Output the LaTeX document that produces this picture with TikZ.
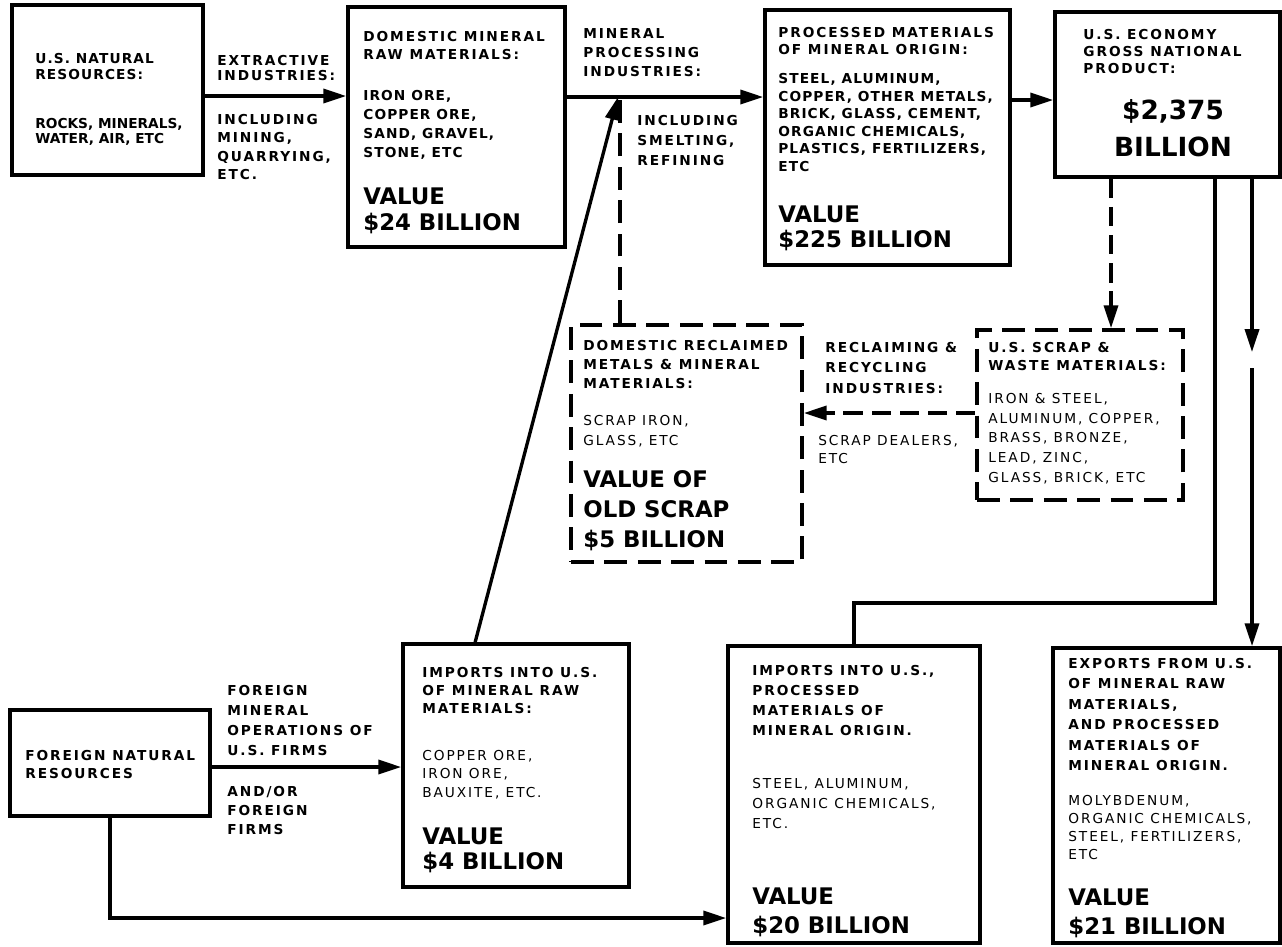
\documentclass[tikz,border=0pt]{standalone}
\usepackage{fontspec}
\setmainfont{DejaVu Sans}
\newfontfamily\widefont{DejaVu Sans}[LetterSpace=14]
\newfontfamily\midfont{DejaVu Sans}[LetterSpace=8]
\usetikzlibrary{arrows.meta,fit,calc}

% text sizes: small caps lines and the large value lines
\newcommand{\hdrtxt}[1]{\fontsize{7.8pt}{#1}\selectfont\widefont\bfseries}
\newcommand{\lsttxt}[1]{\fontsize{7.8pt}{#1}\selectfont\widefont}
\newcommand{\mdtxt}[1]{\fontsize{7.8pt}{#1}\selectfont\midfont\bfseries}
\newcommand{\plntxt}[1]{\fontsize{7.8pt}{#1}\selectfont\bfseries}
\newcommand{\valtxt}[1]{\fontsize{13pt}{#1}\selectfont\bfseries}

\tikzset{
  box/.style={draw, line width=2.1pt, inner sep=0pt},
  dbox/.style={box, dash pattern=on 13pt off 6pt},
  txt/.style={anchor=north west, inner sep=0pt, align=left},
  flow/.style={line width=1.9pt},
  arr/.style={flow, -{Triangle[length=13pt,width=8pt]}},
  darr/.style={arr, dash pattern=on 11pt off 5pt},
}

\begin{document}
\begin{tikzpicture}[x=0.02cm, y=-0.02cm]
  \fill[white] (0,0) rectangle (1282,947);
  \useasboundingbox (0,0) rectangle (1282,947);

  % boxes
  \node[box, fit={(12,5) (203,175)}] (usnr) {};
  \node[box, fit={(348,7) (565,247)}] (dmrm) {};
  \node[box, fit={(765,10) (1010,265)}] (pmmo) {};
  \node[box, fit={(1055,12) (1280,177)}] (usec) {};
  \node[dbox, fit={(571,325) (802,562)}] (drmm) {};
  \node[dbox, fit={(977,330) (1183,500)}] (scrap) {};
  \node[box, fit={(10,710) (210,816)}] (fnr) {};
  \node[box, fit={(403,644) (629,887)}] (imraw) {};
  \node[box, fit={(728,646) (980,943)}] (improc) {};
  \node[box, fit={(1053,648) (1280,943)}] (expo) {};

  % box texts
  \node[txt, font={\mdtxt{9.1pt}}] (usnrA) at (35,53) {U.S. NATURAL\\RESOURCES:};
  \node[txt, font={\plntxt{8.8pt}}] (usnrB) at (35,118) {ROCKS, MINERALS,\\WATER, AIR, ETC};

  \node[txt, font={\hdrtxt{10.2pt}}] (dmrmA) at (363,31) {DOMESTIC MINERAL\\RAW MATERIALS:};
  \node[txt, font={\mdtxt{10.8pt}}] (dmrmB) at (363,90) {IRON ORE,\\COPPER ORE,\\SAND, GRAVEL,\\STONE, ETC};
  \node[txt, font={\valtxt{15.3pt}}] (dmrmC) at (363,187) {VALUE\\\$24 BILLION};

  \node[txt, font={\hdrtxt{9.4pt}}] (pmmoA) at (778,27) {PROCESSED MATERIALS\\OF MINERAL ORIGIN:};
  \node[txt, font={\mdtxt{10pt}}] (pmmoB) at (778,73) {STEEL, ALUMINUM,\\COPPER, OTHER METALS,\\BRICK, GLASS, CEMENT,\\ORGANIC CHEMICALS,\\PLASTICS, FERTILIZERS,\\ETC};
  \node[txt, font={\valtxt{14.5pt}}] (pmmoC) at (778,205) {VALUE\\\$225 BILLION};

  \node[txt, font={\hdrtxt{9.6pt}}] (usecA) at (1083,29) {U.S. ECONOMY\\GROSS NATIONAL\\PRODUCT:};
  \node[txt, anchor=north, align=center, font={\fontsize{15pt}{21pt}\selectfont\bfseries}] (usecB) at (1173,99) {\$2,375\\BILLION};

  \node[txt, font={\hdrtxt{10.8pt}}] (drmmA) at (583,340) {DOMESTIC RECLAIMED\\METALS \& MINERAL\\MATERIALS:};
  \node[txt, font={\lsttxt{11.3pt}}] (drmmB) at (583,415) {SCRAP IRON,\\GLASS, ETC};
  \node[txt, font={\valtxt{17pt}}] (drmmC) at (583,470) {VALUE OF\\OLD SCRAP\\\$5 BILLION};

  \node[txt, font={\hdrtxt{10.2pt}}] (scrapA) at (988,342) {U.S. SCRAP \&\\WASTE MATERIALS:};
  \node[txt, font={\lsttxt{11.2pt}}] (scrapB) at (988,393) {IRON \& STEEL,\\ALUMINUM, COPPER,\\BRASS, BRONZE,\\LEAD, ZINC,\\GLASS, BRICK, ETC};

  \node[txt, font={\hdrtxt{10.2pt}}] (fnrA) at (25,750) {FOREIGN NATURAL\\RESOURCES};

  \node[txt, font={\hdrtxt{10.2pt}}] (imrawA) at (422,667) {IMPORTS INTO U.S.\\OF MINERAL RAW\\MATERIALS:};
  \node[txt, font={\lsttxt{10.5pt}}] (imrawB) at (422,750) {COPPER ORE,\\IRON ORE,\\BAUXITE, ETC.};
  \node[txt, font={\valtxt{14.7pt}}] (imrawC) at (422,827) {VALUE\\\$4 BILLION};

  \node[txt, font={\hdrtxt{11.3pt}}] (improcA) at (752,665) {IMPORTS INTO U.S.,\\PROCESSED\\MATERIALS OF\\MINERAL ORIGIN.};
  \node[txt, font={\lsttxt{11.3pt}}] (improcB) at (752,778) {STEEL, ALUMINUM,\\ORGANIC CHEMICALS,\\ETC.};
  \node[txt, font={\valtxt{17pt}}] (improcC) at (752,887) {VALUE\\\$20 BILLION};

  \node[txt, font={\hdrtxt{11.6pt}}] (expoA) at (1068,658) {EXPORTS FROM U.S.\\OF MINERAL RAW\\MATERIALS,\\AND PROCESSED\\MATERIALS OF\\MINERAL ORIGIN.};
  \node[txt, font={\lsttxt{10.2pt}}] (expoB) at (1068,795) {MOLYBDENUM,\\ORGANIC CHEMICALS,\\STEEL, FERTILIZERS,\\ETC};
  \node[txt, font={\valtxt{17pt}}] (expoC) at (1068,888) {VALUE\\\$21 BILLION};

  % connector labels
  \node[txt, font={\hdrtxt{8.8pt}}] (extA) at (217,55) {EXTRACTIVE\\INDUSTRIES:};
  \node[txt, font={\hdrtxt{10.5pt}}] (extB) at (217,114) {INCLUDING\\MINING,\\QUARRYING,\\ETC.};
  \node[txt, font={\hdrtxt{11pt}}] (procA) at (583,28) {MINERAL\\PROCESSING\\INDUSTRIES:};
  \node[txt, font={\hdrtxt{11.3pt}}] (procB) at (637,115) {INCLUDING\\SMELTING,\\REFINING};
  \node[txt, font={\hdrtxt{11.6pt}}] (recA) at (825,342) {RECLAIMING \&\\RECYCLING\\INDUSTRIES:};
  \node[txt, font={\lsttxt{10.2pt}}] (recB) at (818,435) {SCRAP DEALERS,\\ETC};
  \node[txt, font={\hdrtxt{11.3pt}}] (forA) at (227,685) {FOREIGN\\MINERAL\\OPERATIONS OF\\U.S. FIRMS};
  \node[txt, font={\hdrtxt{10.8pt}}] (forB) at (227,786) {AND/OR\\FOREIGN\\FIRMS};

  % junction points
  \coordinate (jn) at (618,97);
  \coordinate (gapA) at (1252,352);
  \coordinate (gapB) at (1252,368);
  \coordinate (bendA) at (1215,603);
  \coordinate (bendB) at (110,918);

  % connectors
  \draw[arr] (usnr.east |- 0,96) -- (dmrm.west |- 0,96);
  \draw[arr] (dmrm.east |- jn) -- (pmmo.west |- jn);
  \draw[arr] (pmmo.east |- 0,100) -- (usec.west |- 0,100);
  \draw[darr] (usec.south -| 1111,0) -- (scrap.north -| 1111,0);
  \draw[darr] (scrap.west |- 0,413) -- (drmm.east |- 0,413);
  \draw[flow, dash pattern=on 13pt off 6pt] (drmm.north -| 620,0) -- (620,97);
  \draw[arr] ($(imraw.north west)+(74,0)$) -- (jn);
  \draw[flow] (usec.south -| bendA) -- (bendA) -- (bendA -| 854,0) -- (improc.north -| 854,0);
  \draw[arr] (usec.south -| gapA) -- (gapA);
  \draw[arr] (gapB) -- (expo.north -| gapB);
  \draw[arr] (fnr.east |- 0,767) -- (imraw.west |- 0,767);
  \draw[arr] (fnr.south -| bendB) -- (bendB) -- (improc.west |- bendB);
\end{tikzpicture}
\end{document}
